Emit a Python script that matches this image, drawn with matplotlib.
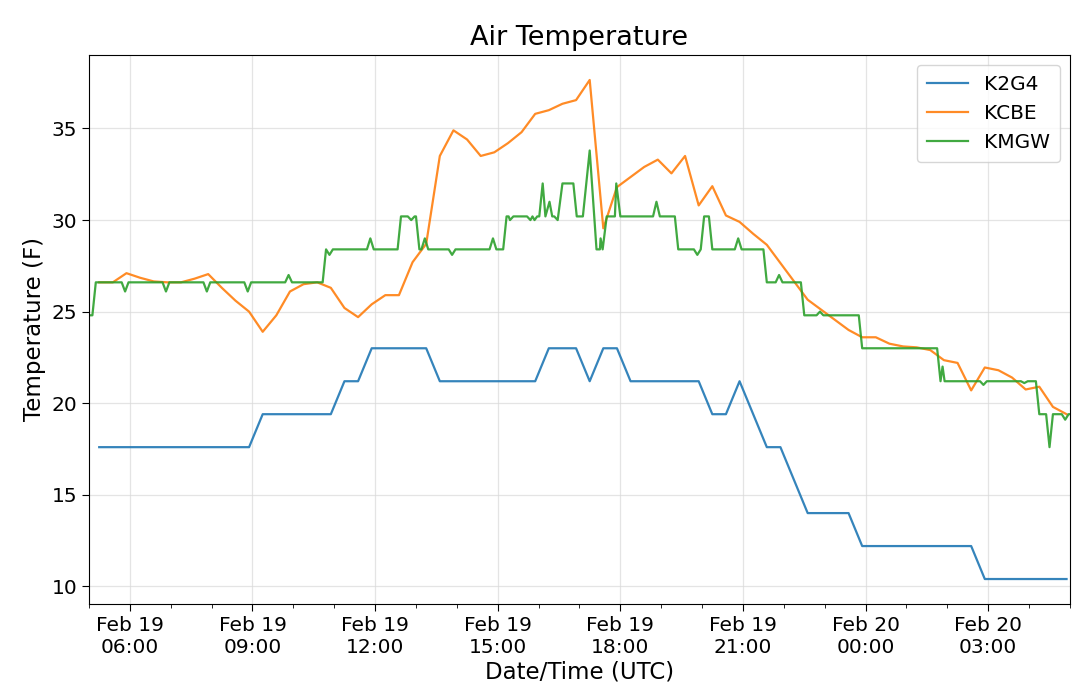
import matplotlib
matplotlib.use("Agg")
import matplotlib.pyplot as plt
import matplotlib.dates as mdates
import pandas as pd

START_DAY = "2019-02-19"

# K2G4: 20-minute AWOS reports (breakpoints)
k2g4_times = ["05:15", "08:55", "09:15", "10:55", "11:15", "11:35", "11:55", "13:15",
              "13:35", "15:55", "16:15", "16:55", "17:15", "17:35", "17:55", "18:15",
              "19:55", "20:15", "20:35", "20:55", "21:35", "21:55", "22:35", "23:35",
              "23:55", "02:35", "02:55", "04:55"]
k2g4_temps = [17.6, 17.6, 19.4, 19.4, 21.2, 21.2, 23.0, 23.0,
              21.2, 21.2, 23.0, 23.0, 21.2, 23.0, 23.0, 21.2,
              21.2, 19.4, 19.4, 21.2, 17.6, 17.6, 14.0, 14.0,
              12.2, 12.2, 10.4, 10.4]

# KCBE
kcbe_times = ["05:15", "05:35", "05:55", "06:15", "06:35", "06:55", "07:15", "07:35",
              "07:55", "08:15", "08:35", "08:55", "09:15", "09:35", "09:55", "10:15",
              "10:35", "10:55", "11:15", "11:35", "11:55", "12:15", "12:35", "12:55",
              "13:15", "13:35", "13:55", "14:15", "14:35", "14:55", "15:15", "15:35",
              "15:55", "16:15", "16:35", "16:55", "17:15", "17:35", "17:55", "18:15",
              "18:35", "18:55", "19:15", "19:35", "19:55", "20:15", "20:35", "20:55",
              "21:15", "21:35", "21:55", "22:15", "22:35", "22:55", "23:15", "23:35",
              "23:55", "00:15", "00:35", "00:55", "01:15", "01:35", "01:55", "02:15",
              "02:35", "02:55", "03:15", "03:35", "03:55", "04:15", "04:35", "04:55"]
kcbe_temps = [26.6, 26.6, 27.1, 26.85, 26.65, 26.6, 26.6, 26.8,
              27.05, 26.3, 25.6, 25.0, 23.9, 24.8, 26.1, 26.5,
              26.6, 26.3, 25.2, 24.7, 25.4, 25.9, 25.9, 27.7,
              28.7, 33.5, 34.9, 34.4, 33.5, 33.7, 34.2, 34.8,
              35.8, 36.0, 36.35, 36.55, 37.65, 29.55, 31.8, 32.35,
              32.9, 33.3, 32.55, 33.5, 30.8, 31.85, 30.25, 29.9,
              29.25, 28.65, 27.65, 26.65, 25.65, 25.1, 24.55, 24.0,
              23.6, 23.6, 23.25, 23.1, 23.05, 22.9, 22.35, 22.2,
              20.7, 21.95, 21.8, 21.4, 20.75, 20.9, 19.8, 19.4]

# KMGW
kmgw_times = ["05:00", "05:05", "05:10", "05:48", "05:53", "05:58", "06:48", "06:53",
              "06:58", "07:48", "07:53", "07:58", "08:48", "08:53", "08:58", "09:48",
              "09:53", "09:58", "10:43", "10:48", "10:53", "10:58", "11:48", "11:53",
              "11:58", "12:33", "12:38", "12:48", "12:53", "12:58", "13:00", "13:05",
              "13:08", "13:13", "13:18", "13:48", "13:53", "13:58", "14:48", "14:53",
              "14:58", "15:08", "15:13", "15:16", "15:18", "15:23", "15:43", "15:48",
              "15:51", "15:54", "15:58", "16:01", "16:06", "16:10", "16:16", "16:20",
              "16:23", "16:28", "16:35", "16:51", "16:56", "17:05", "17:15", "17:25",
              "17:30", "17:31", "17:34", "17:40", "17:52", "17:54", "18:00", "18:48",
              "18:53", "18:58", "19:20", "19:25", "19:48", "19:53", "19:58", "20:03",
              "20:10", "20:15", "20:48", "20:53", "20:58", "21:30", "21:35", "21:48",
              "21:53", "21:58", "22:25", "22:30", "22:48", "22:53", "22:58", "23:50",
              "23:55", "01:45", "01:50", "01:53", "01:56", "02:48", "02:53", "02:58",
              "03:48", "03:53", "03:58", "04:10", "04:15", "04:25", "04:30", "04:35",
              "04:48", "04:53", "04:58", "05:00"]
kmgw_temps = [24.8, 24.8, 26.6, 26.6, 26.1, 26.6, 26.6, 26.1,
              26.6, 26.6, 26.1, 26.6, 26.6, 26.1, 26.6, 26.6,
              27.0, 26.6, 26.6, 28.4, 28.1, 28.4, 28.4, 29.0,
              28.4, 28.4, 30.2, 30.2, 30.0, 30.2, 30.2, 28.4,
              28.4, 29.0, 28.4, 28.4, 28.1, 28.4, 28.4, 29.0,
              28.4, 28.4, 30.2, 30.2, 30.0, 30.2, 30.2, 30.0,
              30.2, 30.0, 30.2, 30.2, 32.0, 30.2, 31.0, 30.2,
              30.2, 30.0, 32.0, 32.0, 30.2, 30.2, 33.8, 28.4,
              28.4, 29.0, 28.4, 30.2, 30.2, 32.0, 30.2, 30.2,
              31.0, 30.2, 30.2, 28.4, 28.4, 28.1, 28.4, 30.2,
              30.2, 28.4, 28.4, 29.0, 28.4, 28.4, 26.6, 26.6,
              27.0, 26.6, 26.6, 24.8, 24.8, 25.0, 24.8, 24.8,
              23.0, 23.0, 21.2, 22.0, 21.2, 21.2, 21.0, 21.2,
              21.2, 21.1, 21.2, 21.2, 19.4, 19.4, 17.6, 19.4,
              19.4, 19.1, 19.4, 19.4]


def to_datetimes(clock_times):
    """Turn 'HH:MM' strings into timestamps, rolling over to the next day after midnight."""
    day = pd.Timestamp(START_DAY)
    stamps = []
    previous = None
    for clock in clock_times:
        stamp = day + pd.Timedelta(clock + ":00")
        if previous is not None and stamp < previous:
            day += pd.Timedelta(days=1)
            stamp += pd.Timedelta(days=1)
        stamps.append(stamp)
        previous = stamp
    return stamps


series = [
    ("K2G4", k2g4_times, k2g4_temps, "#1f77b4"),
    ("KCBE", kcbe_times, kcbe_temps, "#ff7f0e"),
    ("KMGW", kmgw_times, kmgw_temps, "#2ca02c"),
]

fig = plt.figure(figsize=(10.8, 6.92), dpi=100)
ax = fig.add_axes([0.0824, 0.1272, 0.9083, 0.7933])

all_stamps = []
for name, times, temps, color in series:
    stamps = to_datetimes(times)
    all_stamps.extend(stamps)
    ax.plot(stamps, temps, color=color, linewidth=1.6, label=name, alpha=0.9)

ax.set_xlim(min(all_stamps), max(all_stamps))
ax.set_yticks([10, 15, 20, 25, 30, 35])

ax.xaxis.set_major_locator(mdates.HourLocator(byhour=range(0, 24, 3)))
ax.xaxis.set_minor_locator(mdates.HourLocator())
ax.xaxis.set_major_formatter(mdates.DateFormatter("%b %d\n%H:%M"))

ax.grid(True, which="major", color="#d9d9d9", linewidth=0.9, alpha=0.7)
ax.tick_params(axis="both", which="major", labelsize=14.5, length=5)
ax.tick_params(axis="x", which="minor", length=3)

ax.set_title("Air Temperature", fontsize=19.5, pad=7)
ax.set_xlabel("Date/Time (UTC)", fontsize=16.5, labelpad=3)
ax.set_ylabel("Temperature (F)", fontsize=16.5)
ax.legend(loc="upper right", fontsize=14.5, framealpha=0.8, borderpad=0.5)

fig.savefig("out.png", dpi=100)
